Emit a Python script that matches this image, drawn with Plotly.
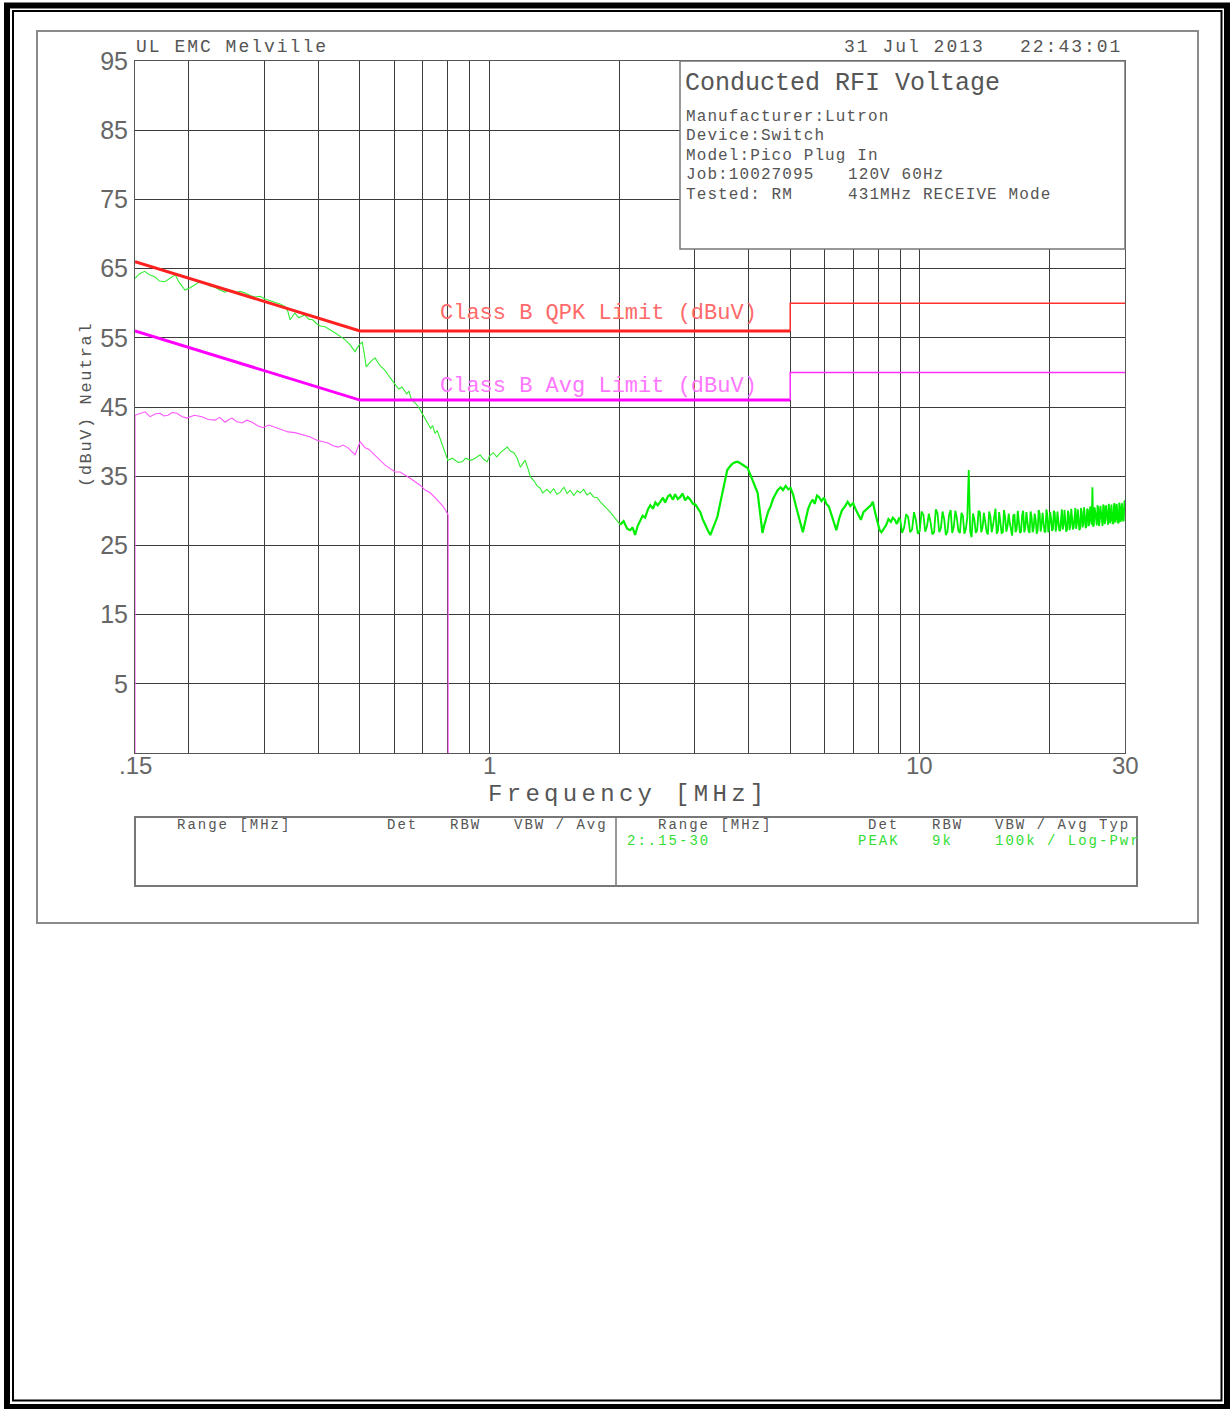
import math
import plotly.graph_objects as go

W, H = 1230, 1409

# ---------------- data ----------------
# Peak trace (green), segment 1: 0.15 - 2 MHz
PEAK_F_1 = [0.150, 0.154, 0.158, 0.162, 0.167, 0.171, 0.176, 0.181, 0.186, 0.190,
            0.196, 0.201, 0.207, 0.212, 0.218, 0.224, 0.230, 0.236, 0.243, 0.249,
            0.256, 0.263, 0.270, 0.278, 0.285, 0.293, 0.301, 0.309, 0.317, 0.326,
            0.335, 0.340, 0.344, 0.349, 0.353, 0.360, 0.366, 0.372, 0.380, 0.388,
            0.397, 0.405, 0.415, 0.426, 0.438, 0.450, 0.462, 0.474, 0.487, 0.497,
            0.506, 0.512, 0.517, 0.530, 0.542, 0.556, 0.572, 0.588, 0.604, 0.615,
            0.626, 0.642, 0.650, 0.659, 0.672, 0.684, 0.700, 0.710, 0.720, 0.730,
            0.738, 0.747, 0.756, 0.768, 0.780, 0.790, 0.800, 0.820, 0.845, 0.865,
            0.880, 0.905, 0.926, 0.951, 0.970, 0.988, 1.00, 1.02, 1.04, 1.06,
            1.08, 1.10, 1.12, 1.14, 1.16, 1.18, 1.20, 1.21, 1.23, 1.245,
            1.27, 1.29, 1.31, 1.33, 1.36, 1.384, 1.41, 1.435, 1.46, 1.49,
            1.515, 1.54, 1.57, 1.60, 1.625, 1.655, 1.685, 1.715, 1.745, 1.78,
            1.81, 1.84, 1.875, 1.908, 1.94, 1.975, 2.013]
PEAK_V_1 = [63.6, 64.3, 64.6, 64.1, 63.8, 63.2, 63.1, 63.6, 64.1, 63.0,
            61.9, 62.2, 62.7, 63.1, 63.0, 62.5, 62.3, 61.9, 61.6, 61.9,
            61.5, 61.7, 61.5, 61.1, 60.9, 61.0, 60.6, 60.4, 60.1, 59.9,
            59.5, 58.8, 57.6, 58.2, 58.6, 57.9, 58.1, 58.3, 57.7, 57.6,
            57.0, 56.7, 56.6, 56.1, 55.7, 55.2, 54.7, 54.0, 53.0, 53.9,
            54.4, 52.6, 50.8, 51.6, 52.1, 51.0, 50.3, 49.2, 48.2, 47.6,
            47.9, 46.9, 47.3, 46.0, 45.6, 45.0, 43.9, 43.2, 42.7, 41.9,
            42.3, 41.2, 41.6, 40.4, 39.5, 38.4, 37.3, 37.6, 37.0, 37.1,
            37.6, 37.3, 37.6, 38.1, 37.4, 37.1, 37.9, 38.4, 37.8, 38.4,
            38.8, 39.2, 38.6, 38.4, 37.6, 36.3, 37.0, 37.3, 36.0, 34.9,
            34.3, 33.6, 33.3, 32.6, 33.1, 32.6, 33.2, 32.4, 32.7, 33.4,
            32.5, 33.0, 32.2, 32.9, 32.6, 33.1, 32.3, 32.6, 32.0, 31.9,
            31.3, 30.9, 30.3, 29.8, 29.2, 28.6, 28.0]

# Peak trace, segment 2: 2 - 9 MHz
PEAK_F_2 = [2.013, 2.05, 2.09, 2.124, 2.15, 2.18, 2.21, 2.24, 2.27, 2.30,
            2.335, 2.365, 2.40, 2.43, 2.46, 2.495, 2.53, 2.56, 2.60, 2.63,
            2.67, 2.70, 2.74, 2.776, 2.81, 2.85, 2.89, 2.93, 2.97, 3.01,
            3.05, 3.09, 3.13, 3.17, 3.21, 3.26, 3.30, 3.34, 3.385, 3.43,
            3.48, 3.52, 3.57, 3.62, 3.67, 3.72, 3.77, 3.82, 3.875, 3.93,
            3.98, 4.03, 4.09, 4.14, 4.20, 4.24, 4.28, 4.31, 4.35, 4.40,
            4.45, 4.50, 4.56, 4.62, 4.68, 4.75, 4.81, 4.88, 4.95, 5.01,
            5.08, 5.15, 5.22, 5.28, 5.35, 5.42, 5.50, 5.57, 5.64, 5.70,
            5.77, 5.83, 5.91, 5.99, 6.07, 6.15, 6.24, 6.32, 6.40, 6.50,
            6.60, 6.70, 6.80, 6.90, 7.00, 7.10, 7.20, 7.30, 7.40, 7.50,
            7.60, 7.70, 7.78, 7.88, 7.97, 8.07, 8.15, 8.25, 8.35, 8.46,
            8.57, 8.66, 8.75, 8.85, 8.95, 9.00]
PEAK_V_2 = [28.0, 28.5, 27.4, 27.2, 27.6, 26.5, 27.8, 28.7, 29.3, 29.0,
            30.2, 30.8, 30.3, 31.2, 30.8, 31.3, 31.9, 31.2, 32.1, 32.3,
            31.6, 32.4, 31.7, 32.0, 32.5, 31.5, 32.0, 31.6, 31.0, 30.9,
            30.3, 29.8, 28.8, 27.9, 27.3, 26.5, 27.4, 28.2, 29.1, 30.8,
            32.6, 34.2, 35.9, 36.4, 36.8, 37.0, 37.1, 36.9, 36.6, 36.4,
            36.2, 35.3, 34.3, 33.5, 32.6, 30.5, 28.3, 26.8, 27.9, 28.9,
            30.0, 30.6, 31.7, 32.4, 33.0, 33.4, 33.0, 33.6, 33.1, 33.3,
            32.3, 30.8, 29.4, 28.2, 26.9, 28.5, 30.2, 31.1, 31.6, 31.0,
            32.2, 32.0, 31.4, 31.9, 31.0, 30.6, 29.3, 28.4, 27.2, 28.9,
            30.1, 30.6, 31.3, 30.7, 31.1, 30.2, 29.5, 28.7, 29.8, 30.2,
            30.5, 30.8, 31.3, 29.7, 28.4, 27.2, 26.9, 27.4, 27.9, 28.8,
            28.4, 29.0, 28.7, 28.1, 28.9, 28.9]

# Peak trace, segment 3: 9 - 30 MHz (dense noise floor)
PEAK_F_3 = [9.0, 9.1, 9.2, 9.3, 9.4, 9.5, 9.6, 9.7, 9.8, 9.9,
            10.0, 10.1, 10.2, 10.3, 10.4, 10.5, 10.6, 10.7, 10.8, 10.9,
            11.0, 11.1, 11.2, 11.3, 11.4, 11.5, 11.6, 11.7, 11.8, 11.9,
            12.0, 12.1, 12.2, 12.3, 12.4, 12.5, 12.6, 12.7, 12.8, 12.9,
            13.0, 13.1, 13.2, 13.3, 13.4, 13.5, 13.6, 13.7, 13.8, 13.9,
            14.0, 14.1, 14.2, 14.3, 14.4, 14.5, 14.6, 14.7, 14.8, 14.9,
            15.0, 15.1, 15.2, 15.3, 15.4, 15.5, 15.6, 15.7, 15.8, 15.9,
            16.0, 16.1, 16.2, 16.3, 16.4, 16.5, 16.6, 16.7, 16.8, 16.9,
            17.0, 17.1, 17.2, 17.3, 17.4, 17.5, 17.6, 17.7, 17.8, 17.9,
            18.0, 18.1, 18.2, 18.3, 18.4, 18.5, 18.6, 18.7, 18.8, 18.9,
            19.0, 19.1, 19.2, 19.3, 19.4, 19.5, 19.6, 19.7, 19.8, 19.9,
            20.0, 20.1, 20.2, 20.3, 20.4, 20.5, 20.6, 20.7, 20.8, 20.9,
            21.0, 21.1, 21.2, 21.3, 21.4, 21.5, 21.6, 21.7, 21.8, 21.9,
            22.0, 22.1, 22.2, 22.3, 22.4, 22.5, 22.6, 22.7, 22.8, 22.9,
            23.0, 23.1, 23.2, 23.3, 23.4, 23.5, 23.6, 23.7, 23.8, 23.9,
            24.0, 24.1, 24.2, 24.3, 24.4, 24.5, 24.6, 24.7, 24.8, 24.9,
            25.0, 25.1, 25.2, 25.3, 25.4, 25.5, 25.6, 25.7, 25.8, 25.9,
            26.0, 26.1, 26.2, 26.3, 26.4, 26.5, 26.6, 26.7, 26.8, 26.9,
            27.0, 27.1, 27.2, 27.3, 27.4, 27.5, 27.6, 27.7, 27.8, 27.9,
            28.0, 28.1, 28.2, 28.3, 28.4, 28.5, 28.6, 28.7, 28.8, 28.9,
            29.0, 29.1, 29.2, 29.3, 29.4, 29.5, 29.6, 29.7, 29.8, 29.9,
            30.0]
PEAK_V_3 = [28.9, 26.8, 27.6, 29.5, 29.1, 26.9, 27.3, 29.8, 28.6, 26.7,
            27.1, 29.9, 29.4, 27.0, 27.8, 29.6, 28.3, 26.6, 26.9, 30.2,
            29.6, 26.9, 27.5, 29.9, 28.8, 26.5, 27.0, 29.4, 30.1, 26.8,
            27.7, 30.0, 28.9, 27.1, 26.8, 29.7, 29.3, 26.7, 27.4, 29.0,
            35.9, 27.0, 26.2, 29.6, 28.7, 26.8, 27.2, 30.0, 29.8, 26.9,
            27.6, 29.7, 28.4, 27.0, 26.6, 29.9, 29.2, 26.9, 27.9, 29.5,
            30.3, 26.7, 27.1, 29.8, 28.5, 26.8, 26.9, 30.1, 29.0, 27.0,
            27.8, 29.6, 28.2, 27.2, 26.4, 29.3, 29.5, 26.9, 27.3, 30.0,
            28.8, 26.8, 27.0, 29.4, 30.0, 26.9, 27.6, 29.8, 28.4, 27.1,
            26.8, 29.9, 29.1, 26.9, 27.5, 29.6, 28.7, 26.7, 27.2, 30.1,
            29.6, 27.0, 27.9, 29.7, 28.3, 27.0, 26.9, 30.2, 29.4, 26.9,
            27.7, 29.8, 28.9, 27.1, 27.4, 30.0, 29.7, 27.0, 27.8, 29.9,
            28.6, 27.2, 27.1, 29.6, 30.2, 27.3, 28.0, 30.1, 28.8, 27.0,
            27.3, 30.0, 29.5, 27.2, 27.9, 30.3, 29.0, 27.3, 27.6, 29.9,
            30.4, 27.4, 28.2, 30.2, 29.1, 27.2, 27.5, 30.4, 29.8, 27.6,
            28.1, 30.5, 29.3, 27.5, 27.7, 30.3, 30.1, 27.8, 28.4, 30.6,
            29.2, 28.0, 33.4, 27.7, 28.0, 30.5, 29.7, 27.9, 27.9, 30.8,
            30.3, 27.8, 28.5, 30.7, 29.4, 28.0, 27.8, 30.9, 30.6, 28.1,
            28.6, 30.8, 29.6, 28.0, 28.0, 31.0, 30.2, 28.2, 28.7, 30.9,
            29.9, 28.1, 28.2, 31.1, 30.8, 28.3, 28.9, 31.0, 29.5, 28.2,
            28.3, 31.2, 30.4, 28.4, 28.8, 31.1, 30.0, 28.5, 28.6, 31.3,
            31.5]

# Average trace (magenta)
AVG_F = [0.150, 0.150, 0.1583, 0.1626, 0.1670, 0.1716, 0.1750, 0.1790, 0.1830, 0.1878,
         0.1930, 0.1981, 0.2060, 0.2147, 0.2220, 0.2302, 0.2360, 0.2429, 0.2480, 0.2522,
         0.2580, 0.2660, 0.2730, 0.2807, 0.2890, 0.2975, 0.3070, 0.3174, 0.3290, 0.3403,
         0.3530, 0.3668, 0.3820, 0.3974, 0.4090, 0.4216, 0.4330, 0.4448, 0.4570, 0.4692,
         0.4780, 0.4871, 0.5004, 0.5139, 0.5240, 0.5336, 0.5420, 0.5510, 0.5610, 0.5720,
         0.5880, 0.6035, 0.6200, 0.6367, 0.6540, 0.6717, 0.6900, 0.7087, 0.7280, 0.7476,
         0.7620, 0.7762, 0.7890, 0.8016, 0.8016]
AVG_V = [-5, 43.8, 44.3, 43.6, 44.0, 44.1, 43.7, 43.8, 44.2, 44.1,
         43.6, 43.4, 43.8, 43.6, 43.2, 43.1, 43.5, 42.8, 43.2, 43.4,
         42.9, 42.7, 43.1, 42.8, 42.3, 42.0, 42.4, 42.1, 41.7, 41.4,
         41.3, 41.0, 40.7, 40.2, 40.0, 39.8, 39.4, 39.2, 39.5, 39.1,
         38.6, 38.1, 40.0, 39.1, 38.9, 38.4, 38.0, 37.6, 37.1, 36.6,
         36.1, 35.6, 35.6, 35.2, 34.7, 34.2, 33.7, 33.0, 32.6, 31.9,
         31.4, 30.8, 30.2, 29.4, -5]

# Limits
QPK_LIMIT_F_A = [0.15, 0.5, 5.0]
QPK_LIMIT_V_A = [66, 56, 56]
QPK_LIMIT_F_B = [5.0, 5.0, 30.0]
QPK_LIMIT_V_B = [56, 60, 60]
AVG_LIMIT_F_A = [0.15, 0.5, 5.0]
AVG_LIMIT_V_A = [56, 46, 46]
AVG_LIMIT_F_B = [5.0, 5.0, 30.0]
AVG_LIMIT_V_B = [46, 50, 50]

# Axes
X_GRID = [0.15, 0.2, 0.3, 0.4, 0.5, 0.6, 0.7, 0.8, 0.9, 1, 2, 3, 4, 5, 6, 7, 8, 9, 10, 20, 30]
X_LABEL_VALUES = [0.15, 1, 10, 30]
X_LABEL_TEXT = [".15", "1", "10", "30"]
Y_TICKS = [5, 15, 25, 35, 45, 55, 65, 75, 85, 95]
Y_RANGE = [-5, 95]
X_RANGE = [0.15, 30]

# ---------------- styling helpers ----------------
MONO = "Liberation Mono, DejaVu Sans Mono, monospace"
SANS = "Liberation Sans, Arial, sans-serif"
GRID = "#3c3c3c"
TXT = "#555555"


def px(x):
    return x / W


def py(y):
    return 1 - y / H


def ann(text, x, y, size, color=TXT, xanchor="left", yanchor="middle",
        family=MONO, spacing=None, angle=0):
    if spacing is not None:
        text = f'<span style="letter-spacing:{spacing}px">{text}</span>'
    return dict(text=text, x=px(x), y=py(y), xref="paper", yref="paper",
                xanchor=xanchor, yanchor=yanchor, showarrow=False,
                font=dict(family=family, size=size, color=color),
                textangle=angle, borderpad=0)


fig = go.Figure()

GREEN = "#00ee00"
fig.add_trace(go.Scatter(x=PEAK_F_1, y=PEAK_V_1, mode="lines",
                         line=dict(color="#33ee33", width=1.1)))
fig.add_trace(go.Scatter(x=PEAK_F_2, y=PEAK_V_2, mode="lines",
                         line=dict(color=GREEN, width=2.2)))
fig.add_trace(go.Scatter(x=PEAK_F_3, y=PEAK_V_3, mode="lines",
                         line=dict(color=GREEN, width=1.8)))
fig.add_trace(go.Scatter(x=AVG_F, y=AVG_V, mode="lines",
                         line=dict(color="#ff55ff", width=1.1)))

fig.add_trace(go.Scatter(x=QPK_LIMIT_F_A, y=QPK_LIMIT_V_A, mode="lines",
                         line=dict(color="#ff2020", width=3)))
fig.add_trace(go.Scatter(x=QPK_LIMIT_F_B, y=QPK_LIMIT_V_B, mode="lines",
                         line=dict(color="#ff3030", width=1.5)))
fig.add_trace(go.Scatter(x=AVG_LIMIT_F_A, y=AVG_LIMIT_V_A, mode="lines",
                         line=dict(color="#ff00ff", width=3)))
fig.add_trace(go.Scatter(x=AVG_LIMIT_F_B, y=AVG_LIMIT_V_B, mode="lines",
                         line=dict(color="#ff30ff", width=1.5)))

fig.update_layout(
    width=W, height=H,
    margin=dict(l=0, r=0, t=0, b=0, pad=0, autoexpand=False),
    paper_bgcolor="white", plot_bgcolor="white",
    showlegend=False,
    xaxis=dict(type="log", range=[math.log10(X_RANGE[0]), math.log10(X_RANGE[1])],
               domain=[px(135), px(1125)], tickmode="array", tickvals=X_GRID,
               showticklabels=False, showgrid=True, gridcolor=GRID, gridwidth=1,
               showline=True, linecolor="#555555", linewidth=1, mirror=True,
               zeroline=False, ticks="", automargin=False),
    yaxis=dict(range=Y_RANGE, domain=[py(753), py(61)], tickmode="array",
               tickvals=Y_TICKS, showgrid=True, gridcolor=GRID, gridwidth=1,
               showline=True, linecolor="#555555", linewidth=1, mirror=True,
               zeroline=False, ticks="", ticklabelstandoff=1, automargin=False,
               tickfont=dict(family=SANS, size=25, color="#666666")),
)

shapes = []
# outer double border
shapes.append(dict(type="rect", xref="paper", yref="paper",
                   x0=px(7), x1=px(1227), y0=py(5.5), y1=py(1407),
                   line=dict(color="black", width=6)))
shapes.append(dict(type="rect", xref="paper", yref="paper",
                   x0=px(13), x1=px(1221.5), y0=py(11), y1=py(1400.5),
                   line=dict(color="black", width=2)))
# gray frame
shapes.append(dict(type="rect", xref="paper", yref="paper",
                   x0=px(37), x1=px(1198), y0=py(31), y1=py(923),
                   line=dict(color="#8a8a8a", width=2)))
# info box
shapes.append(dict(type="rect", xref="paper", yref="paper", layer="above",
                   x0=px(680), x1=px(1125), y0=py(61), y1=py(249),
                   fillcolor="white", line=dict(color="#777777", width=1.5)))
# table box
shapes.append(dict(type="rect", xref="paper", yref="paper",
                   x0=px(135), x1=px(1137), y0=py(817), y1=py(886),
                   line=dict(color="#777777", width=2)))
shapes.append(dict(type="line", xref="paper", yref="paper",
                   x0=px(616), x1=px(616), y0=py(817), y1=py(886),
                   line=dict(color="#777777", width=1.5)))
fig.update_layout(shapes=shapes)

anns = [
    ann("UL EMC Melville", 135, 47, 18, spacing=2),
    ann("31 Jul 2013", 843, 47, 18, spacing=2),
    ann("22:43:01", 1123, 47, 18, spacing=2, xanchor="right"),
    ann("Conducted RFI Voltage", 684, 83, 25),
    ann("Manufacturer:Lutron", 685, 117, 16, spacing=1.1),
    ann("Device:Switch", 685, 136, 16, spacing=1.1),
    ann("Model:Pico Plug In", 685, 156, 16, spacing=1.1),
    ann("Job:10027095", 685, 175, 16, spacing=1.1),
    ann("120V 60Hz", 847, 175, 16, spacing=1.1),
    ann("Tested: RM", 685, 195, 16, spacing=1.1),
    ann("431MHz RECEIVE Mode", 847, 195, 16, spacing=1.1),
    ann("Class B QPK Limit (dBuV)", 439, 313, 22, color="#ff6a6a"),
    ann("Class B Avg Limit (dBuV)", 439, 387, 22, color="#ff77ff"),
    ann("(dBuV) Neutral", 86, 405, 17, spacing=1.6, angle=-90, xanchor="center"),
    ann("Frequency [MHz]", 628, 795, 24, spacing=4.3, xanchor="center"),
    # table
    ann("Range [MHz]", 176, 825, 14, spacing=2),
    ann("Det", 386, 825, 14, spacing=2),
    ann("RBW", 449, 825, 14, spacing=2),
    ann("VBW / Avg", 513, 825, 14, spacing=2),
    ann("Range [MHz]", 657, 825, 14, spacing=2),
    ann("Det", 867, 825, 14, spacing=2),
    ann("RBW", 931, 825, 14, spacing=2),
    ann("VBW / Avg Typ", 994, 825, 14, spacing=2),
    ann("2:.15-30", 626, 841, 14, color="#33dd33", spacing=2),
    ann("PEAK", 857, 841, 14, color="#33dd33", spacing=2),
    ann("9k", 931, 841, 14, color="#33dd33", spacing=2),
    ann("100k / Log-Pwr", 994, 841, 14, color="#33dd33", spacing=2),
]
# x-axis tick labels placed through the x axis (log) scale
for v, t in zip(X_LABEL_VALUES, X_LABEL_TEXT):
    anns.append(dict(text=t, x=math.log10(v), xref="x", y=py(765), yref="paper",
                     xanchor="center", yanchor="middle", showarrow=False,
                     font=dict(family=SANS, size=24, color="#666666"), borderpad=0))
fig.update_layout(annotations=anns)

fig.write_html("out.html")
